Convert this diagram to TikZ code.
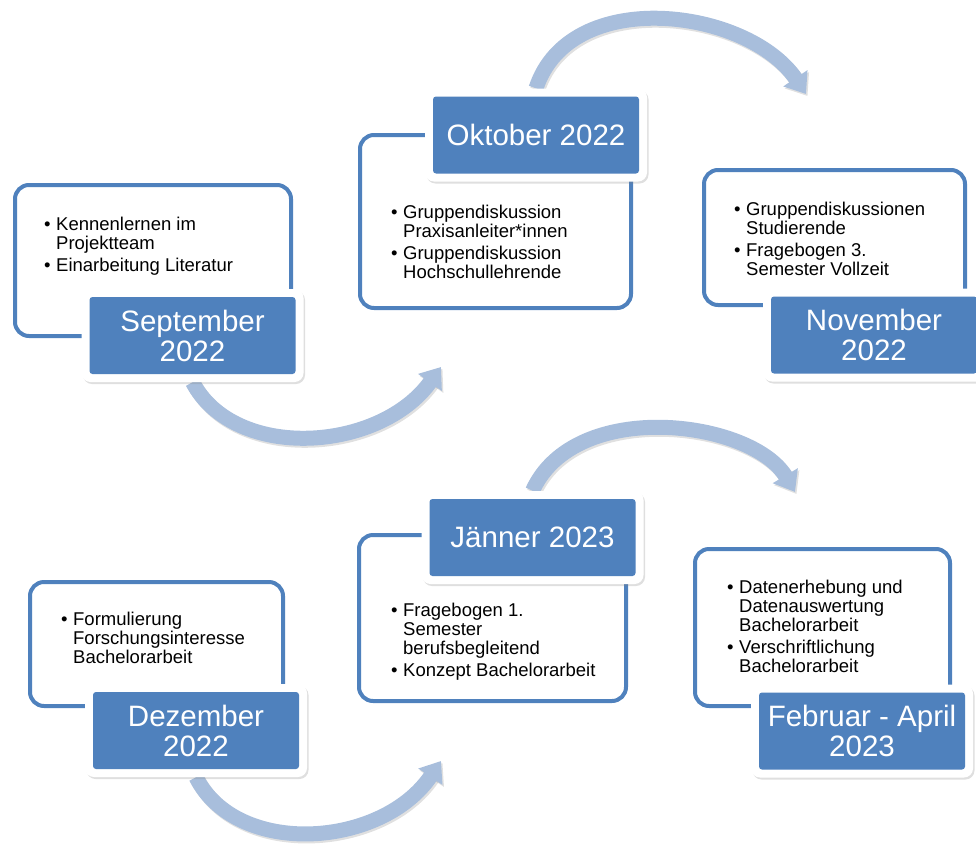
\documentclass[tikz,border=0pt]{standalone}
\usepackage{fontspec}
\setmainfont{Liberation Sans}
\usetikzlibrary{arrows.meta,shadows,backgrounds}
\definecolor{tblue}{HTML}{4F81BD}
\definecolor{arrowblue}{HTML}{A8BEDC}
\newcommand{\pkt}[1]{\textbullet\hspace{5.5pt}\begin{tabular}[t]{@{}l@{}}#1\end{tabular}}
\begin{document}
\begin{tikzpicture}[x=1pt,y=-1pt,
  textbox/.style={draw=tblue, line width=4pt, fill=white, rounded corners=14pt},
  monthframe/.style={fill=white, rounded corners=9pt, minimum width=222, minimum height=93,
    drop shadow={opacity=0.25, shadow xshift=1.5pt, shadow yshift=-2pt}},
  month/.style={fill=tblue, rounded corners=3pt, minimum width=206, minimum height=77, inner sep=0pt,
    text=white, align=center, font=\fontsize{29.5}{30}\selectfont},
  items/.style={anchor=north west, inner sep=0pt, align=left, font=\fontsize{18.5}{19}\selectfont},
  bow/.style={arrowblue, line width=15pt, -{Triangle[length=19pt,width=28pt]}},
  bowshadow/.style={bow, black, opacity=0.12, transform canvas={shift={(1.5pt,-2pt)}}}]
\useasboundingbox (0,0) rectangle (976,843);
% September 2022
\node[textbox, minimum width=276, minimum height=151] (septext) at (153,260.5) {};
\node[items] (sepitems) at (44,217) {\pkt{Kennenlernen im\\Projektteam}\\[2pt]\pkt{Einarbeitung Literatur}};
\node[monthframe] (sepframe) at (192.5,335.5) {};
\node[month] (sepmonth) at (192.5,335.5) {September\\2022};
% Oktober 2022
\node[textbox, minimum width=271, minimum height=173] (oktext) at (495.5,221.5) {};
\node[items] (okitems) at (391,205) {\pkt{Gruppendiskussion\\Praxisanleiter*innen}\\[2pt]\pkt{Gruppendiskussion\\Hochschullehrende}};
\node[monthframe] (okframe) at (536,135) {};
\node[month] (okmonth) at (536,135) {Oktober 2022};
% November 2022
\node[textbox, minimum width=261, minimum height=135] (novtext) at (834.5,237.5) {};
\node[items] (novitems) at (734,202) {\pkt{Gruppendiskussionen\\Studierende}\\[2pt]\pkt{Fragebogen 3.\\Semester Vollzeit}};
\node[monthframe] (novframe) at (874,335) {};
\node[month] (novmonth) at (874,335) {November\\2022};
% Dezember 2022
\node[textbox, minimum width=253, minimum height=124] (deztext) at (156.5,644) {};
\node[items] (dezitems) at (61,612) {\pkt{Formulierung\\Forschungsinteresse\\Bachelorarbeit}};
\node[monthframe] (dezframe) at (196,730.5) {};
\node[month] (dezmonth) at (196,730.5) {Dezember\\2022};
% Jänner 2023
\node[textbox, minimum width=267, minimum height=166] (jantext) at (492.5,618) {};
\node[items] (janitems) at (391,603) {\pkt{Fragebogen 1.\\Semester\\berufsbegleitend}\\[2pt]\pkt{Konzept Bachelorarbeit}};
\node[monthframe] (janframe) at (532.5,537.5) {};
\node[month] (janmonth) at (532.5,537.5) {Jänner 2023};
% Februar - April 2023
\node[textbox, minimum width=255, minimum height=157] (febtext) at (822.5,627.5) {};
\node[items] (febitems) at (727,580) {\pkt{Datenerhebung und\\Datenauswertung\\Bachelorarbeit}\\[2pt]\pkt{Verschriftlichung\\Bachelorarbeit}};
\node[monthframe] (febframe) at (862,731) {};
\node[month] (febmonth) at (862,731) {Februar - April\\2023};
% arrows
\coordinate (b1e) at (441,367);
\coordinate (b2e) at (806,94);
\coordinate (b3e) at (441,761);
\coordinate (b4e) at (795,492);
\begin{scope}[on background layer]
\draw[bowshadow] (sepframe.south) .. controls (235,462) and (380,452) .. (b1e);
\draw[bow] (sepframe.south) .. controls (235,462) and (380,452) .. (b1e);
\draw[bowshadow] (okframe.north) .. controls (570,-15) and (748,8) .. (b2e);
\draw[bow] (okframe.north) .. controls (570,-15) and (748,8) .. (b2e);
\draw[bowshadow] (dezframe.south) .. controls (237,858) and (382,848) .. (b3e);
\draw[bow] (dezframe.south) .. controls (237,858) and (382,848) .. (b3e);
\draw[bowshadow] (janframe.north) .. controls (575,397) and (752,420) .. (b4e);
\draw[bow] (janframe.north) .. controls (575,397) and (752,420) .. (b4e);
\end{scope}
\end{tikzpicture}
\end{document}
